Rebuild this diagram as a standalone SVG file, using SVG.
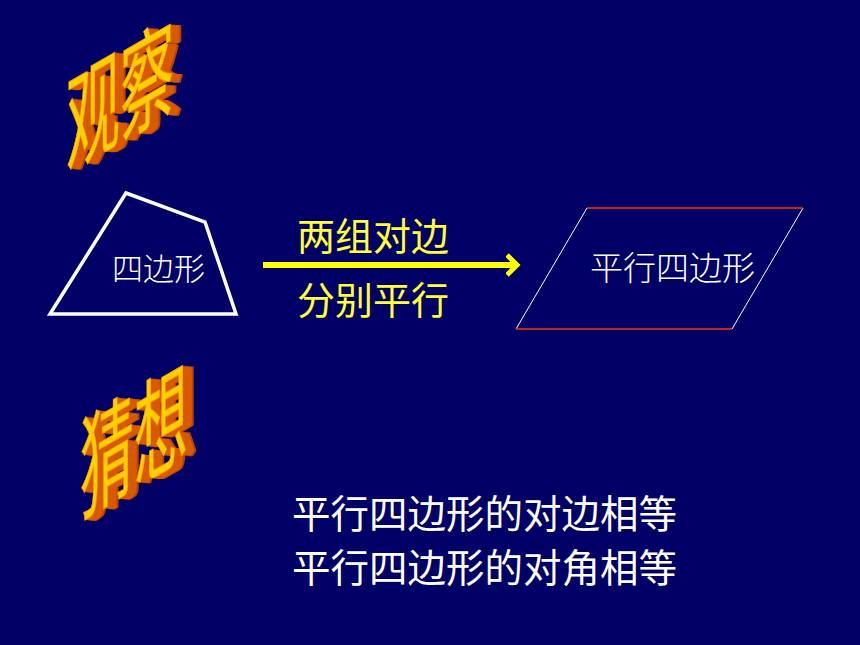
<svg xmlns="http://www.w3.org/2000/svg" xmlns:xlink="http://www.w3.org/1999/xlink" width="860" height="645" viewBox="0 0 860 645">
<style>
.cjk{font-family:"Noto Sans CJK SC","Noto Sans CJK JP",sans-serif;}
.wa{font-size:54px;}
.ext{fill:#d85a00;}
.ext2{fill:#b84400;}
.face{fill:#ffd000;stroke:#ff9900;stroke-width:0.5;}
.yl{fill:#ffff33;font-size:38px;}
.wt{fill:#ffffff;}
</style>
<defs>
<marker id="ah" markerWidth="16" markerHeight="24" refX="10" refY="12" orient="auto" markerUnits="userSpaceOnUse">
<path d="M1,2 L11,12 L1,22" fill="none" stroke="#ffff00" stroke-width="5"/>
</marker>
<text id="t1" class="cjk wa">观察</text>
<text id="t2" class="cjk wa">猜想</text>
</defs>
<rect width="860" height="645" fill="#000066"/>

<g id="wordart-observe" transform="translate(66,168) skewY(-30) scale(1,2.05)">
<use xlink:href="#t1" class="ext2" x="11" y="3.5"/>
<use xlink:href="#t1" class="ext2" x="10" y="3.2"/>
<use xlink:href="#t1" class="ext" x="9" y="2.9"/>
<use xlink:href="#t1" class="ext" x="8" y="2.6"/>
<use xlink:href="#t1" class="ext" x="7" y="2.3"/>
<use xlink:href="#t1" class="ext" x="6" y="2"/>
<use xlink:href="#t1" class="ext" x="5" y="1.6"/>
<use xlink:href="#t1" class="ext" x="4" y="1.3"/>
<use xlink:href="#t1" class="ext" x="3" y="1"/>
<use xlink:href="#t1" class="ext" x="2" y="0.6"/>
<use xlink:href="#t1" class="ext" x="1" y="0.3"/>
<use xlink:href="#t1" class="face" x="0" y="0"/>
</g>

<g id="wordart-guess" transform="translate(80,514) skewY(-30) scale(1,2.1)">
<use xlink:href="#t2" class="ext2" x="11" y="3.5"/>
<use xlink:href="#t2" class="ext2" x="10" y="3.2"/>
<use xlink:href="#t2" class="ext" x="9" y="2.9"/>
<use xlink:href="#t2" class="ext" x="8" y="2.6"/>
<use xlink:href="#t2" class="ext" x="7" y="2.3"/>
<use xlink:href="#t2" class="ext" x="6" y="2"/>
<use xlink:href="#t2" class="ext" x="5" y="1.6"/>
<use xlink:href="#t2" class="ext" x="4" y="1.3"/>
<use xlink:href="#t2" class="ext" x="3" y="1"/>
<use xlink:href="#t2" class="ext" x="2" y="0.6"/>
<use xlink:href="#t2" class="ext" x="1" y="0.3"/>
<use xlink:href="#t2" class="face" x="0" y="0"/>
</g>

<g id="quadrilateral">
<polygon points="126,193 205,222 236,314 50,314" fill="none" stroke="#ffffff" stroke-width="3.5" stroke-linejoin="miter"/>
<text class="cjk wt" x="112" y="280" font-size="31" font-weight="300">四边形</text>
</g>

<g id="parallelogram">
<line x1="587" y1="208" x2="516" y2="329" stroke="#ffffff" stroke-width="1"/>
<line x1="803" y1="208" x2="732" y2="329" stroke="#ffffff" stroke-width="1"/>
<line x1="587" y1="208" x2="803" y2="208" stroke="#ff3300" stroke-width="1.5"/>
<line x1="516" y1="329" x2="732" y2="329" stroke="#ff3300" stroke-width="1.5"/>
<text class="cjk wt" x="590" y="280" font-size="33" font-weight="300">平行四边形</text>
</g>

<g id="connectors">
<line x1="263" y1="265" x2="516" y2="265" stroke="#ffff00" stroke-width="6" marker-end="url(#ah)"/>
</g>

<g id="arrow-label">
<text class="cjk yl" x="297" y="250">两组对边</text>
<text class="cjk yl" x="297" y="314">分别平行</text>
</g>

<g id="conjecture">
<text class="cjk wt" x="292" y="528" font-size="38.5">平行四边形的对边相等</text>
<text class="cjk wt" x="292" y="582" font-size="38.5">平行四边形的对角相等</text>
</g>
</svg>
